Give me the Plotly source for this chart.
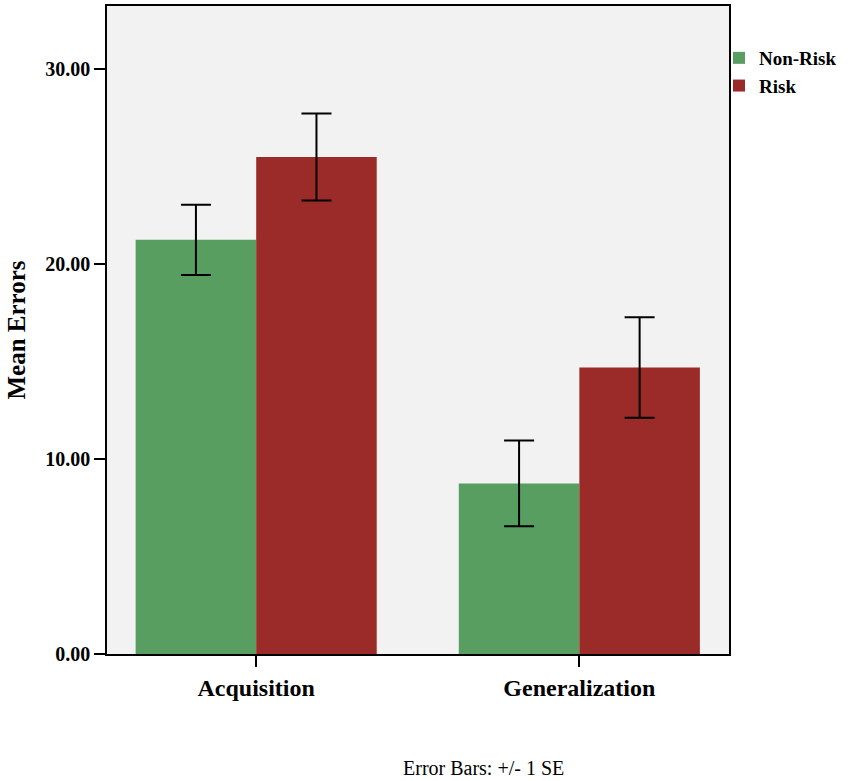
import plotly.graph_objects as go

categories = ["Acquisition", "Generalization"]
nonrisk_means = [21.25, 8.75]
nonrisk_se = [1.8, 2.2]
risk_means = [25.5, 14.7]
risk_se = [2.23, 2.58]
series_names = ["Non-Risk", "Risk"]
y_tickvals = [0, 10, 20, 30]
y_ticktext = ["0.00", "10.00", "20.00", "30.00"]

GREEN = "#579e60"
RED = "#9a2b28"
SERIF = "Liberation Serif, Times New Roman, serif"

fig = go.Figure()
fig.add_trace(go.Bar(
    name=series_names[0], x=categories, y=nonrisk_means,
    marker=dict(color=GREEN, line=dict(width=0)),
    error_y=dict(type="data", array=nonrisk_se, visible=True,
                 color="black", thickness=2, width=15),
))
fig.add_trace(go.Bar(
    name=series_names[1], x=categories, y=risk_means,
    marker=dict(color=RED, line=dict(width=0)),
    error_y=dict(type="data", array=risk_se, visible=True,
                 color="black", thickness=2, width=15),
))

fig.update_layout(
    width=850, height=781,
    margin=dict(l=107, r=121, t=6, b=127, autoexpand=False),
    paper_bgcolor="white",
    plot_bgcolor="#f2f2f2",
    barmode="group",
    bargap=0.254,
    bargroupgap=0,
    font=dict(family=SERIF, color="black"),
    legend=dict(
        xref="container", yref="container",
        x=719 / 850, xanchor="left", y=1 - 39 / 781, yanchor="top",
        font=dict(family=SERIF, size=19, color="black", weight="bold"),
        bgcolor="rgba(0,0,0,0)", borderwidth=0,
        tracegroupgap=0, itemwidth=30,
    ),
    showlegend=True,
)

fig.update_xaxes(
    type="category",
    range=[-0.4617, 1.4631],
    showline=True, linecolor="black", linewidth=1.5, mirror=True,
    ticks="outside", ticklen=11, tickwidth=1.5, tickcolor="black",
    tickfont=dict(family=SERIF, size=24, color="black", weight="bold"),
    showgrid=False, zeroline=False,
)
fig.update_yaxes(
    range=[0, 33.25],
    tickvals=y_tickvals, ticktext=y_ticktext,
    showline=True, linecolor="black", linewidth=1.5, mirror=True,
    ticks="outside", ticklen=11, tickwidth=1.5, tickcolor="black",
    tickfont=dict(family=SERIF, size=20, color="black", weight="bold"),
    showgrid=False, zeroline=False,
    title=dict(text="Mean Errors", standoff=13,
               font=dict(family=SERIF, size=25, color="black", weight="bold")),
)

fig.add_annotation(
    text="Error Bars: +/- 1 SE", xref="paper", yref="paper",
    x=(483 - 107) / 622, y=-(768 - 654) / 648, xanchor="center", yanchor="middle",
    showarrow=False, font=dict(family=SERIF, size=20, color="black"),
)

fig.write_html("out.html", config={"displayModeBar": False},
               post_script="document.body.style.margin='0';")
